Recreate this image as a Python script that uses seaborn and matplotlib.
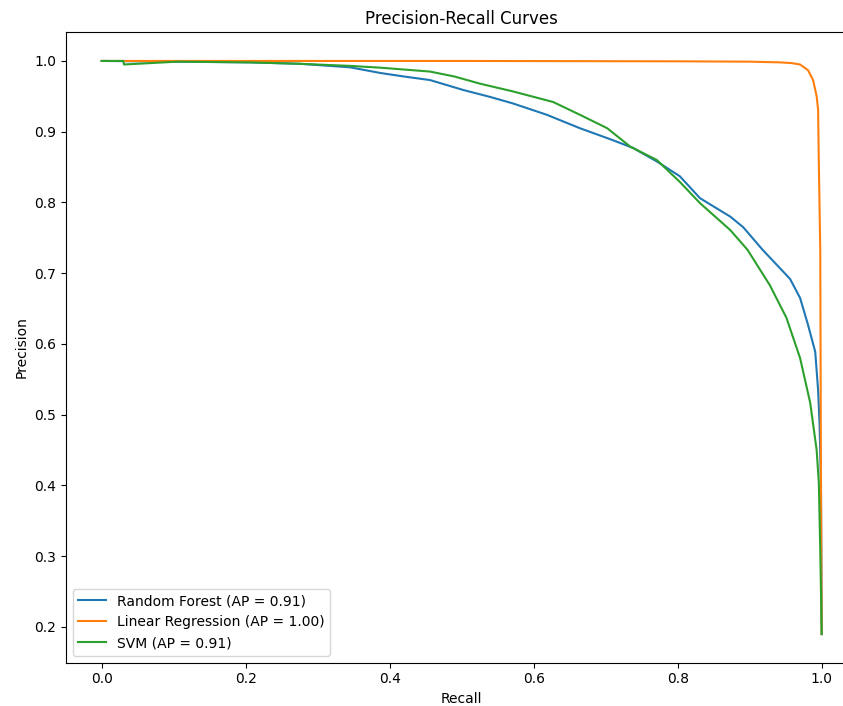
import matplotlib
matplotlib.use("Agg")
import matplotlib.pyplot as plt
import seaborn as sns
import pandas as pd

# Random Forest (AP = 0.91)
rf_recall = [0.0, 0.105, 0.206, 0.275, 0.345, 0.387, 0.420, 0.456, 0.502, 0.540,
             0.571, 0.618, 0.664, 0.710, 0.738, 0.771, 0.803, 0.831, 0.873, 0.891,
             0.918, 0.956, 0.970, 0.981, 0.991, 0.995, 0.997, 0.999, 1.0]
rf_precision = [1.0, 0.999, 0.998, 0.996, 0.991, 0.983, 0.978, 0.973, 0.959, 0.949,
                0.940, 0.924, 0.905, 0.888, 0.877, 0.858, 0.837, 0.806, 0.780, 0.765,
                0.733, 0.692, 0.665, 0.627, 0.589, 0.535, 0.488, 0.40, 0.19]

# Linear Regression (AP = 1.00)
lr_recall = [0.0, 0.5, 0.80, 0.90, 0.942, 0.958, 0.970, 0.981, 0.988, 0.993, 0.995,
             0.996, 0.998, 0.999, 1.0]
lr_precision = [1.0, 1.0, 0.9995, 0.999, 0.998, 0.997, 0.995, 0.987, 0.973, 0.950,
                0.931, 0.856, 0.733, 0.40, 0.19]

# SVM (AP = 0.91)
svm_recall = [0.0, 0.030, 0.031, 0.105, 0.206, 0.275, 0.345, 0.387, 0.456, 0.490,
              0.525, 0.571, 0.627, 0.664, 0.702, 0.734, 0.771, 0.803, 0.831, 0.873,
              0.897, 0.928, 0.951, 0.970, 0.984, 0.993, 0.996, 0.998, 1.0]
svm_precision = [1.0, 1.0, 0.995, 0.999, 0.998, 0.996, 0.993, 0.9905, 0.985, 0.978,
                 0.968, 0.957, 0.942, 0.924, 0.905, 0.879, 0.860, 0.829, 0.799, 0.761,
                 0.733, 0.683, 0.637, 0.580, 0.517, 0.450, 0.404, 0.309, 0.19]

labels = ["Random Forest (AP = 0.91)", "Linear Regression (AP = 1.00)", "SVM (AP = 0.91)"]
colors = ["#1f77b4", "#ff7f0e", "#2ca02c"]

W, H = 843, 706
fig = plt.figure(figsize=(W / 100, H / 100), dpi=100)
ax = fig.add_axes([65.7 / W, (H - 662.7) / H, (857.7 - 65.7) / W, (662.7 - 32.3) / H])

series = [(rf_recall, rf_precision), (lr_recall, lr_precision), (svm_recall, svm_precision)]
for (r, p), lab, col in zip(series, labels, colors):
    df = pd.DataFrame({"Recall": r, "Precision": p})
    sns.lineplot(data=df, x="Recall", y="Precision", estimator=None, sort=False,
                 color=col, label=lab, linewidth=1.5, ax=ax)

ax.set_xlim(-0.05, 1.05)
ax.set_ylim(0.1495, 1.0405)
ax.set_xticks([0.0, 0.2, 0.4, 0.6, 0.8, 1.0])
ax.set_yticks([0.2, 0.3, 0.4, 0.5, 0.6, 0.7, 0.8, 0.9, 1.0])
ax.set_xlabel("Recall")
ax.set_ylabel("Precision")
ax.set_title("Precision-Recall Curves")
ax.legend(loc="lower left")

fig.savefig("out.png", dpi=100)
